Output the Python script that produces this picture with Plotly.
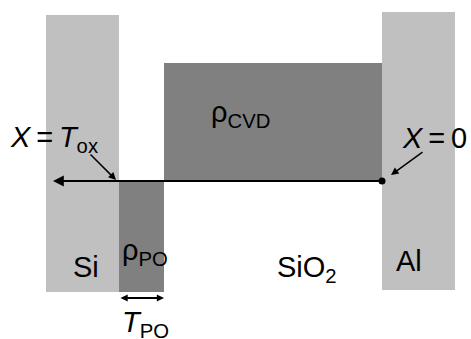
import plotly.graph_objects as go

# Layer geometry of the diagram (diagram units, origin top-left)
layer_names = ["Si", "PO", "CVD", "Al"]
layer_x0 = [46, 119, 164, 382]
layer_x1 = [119, 164, 382, 455]
layer_top = [15, 181, 63, 12]
layer_bottom = [292, 292, 181, 290]
layer_colors = ["#c0c0c0", "#808080", "#808080", "#c0c0c0"]

# Axis line (X axis from X=0 at Al interface to X=Tox at Si)
axis_y = 181
axis_start = 382
axis_end = 53

# Labels
label_text = ["<i>X</i>\u2009=\u2009<i>T</i><sub>ox</sub>", "<i>X</i>\u2009=\u20090", "ρ<sub>CVD</sub>",
              "ρ<sub>PO</sub>", "Si", "SiO<sub>2</sub>", "Al", "<i>T</i><sub>PO</sub>"]
label_x = [8, 400, 209, 120, 71, 275, 394, 120]
label_y = [139, 138, 114, 252, 267, 269, 261, 324]

FONT = "Liberation Sans, Arial, sans-serif"

fig = go.Figure()

shapes = []
for x0, x1, y0, y1, c in zip(layer_x0, layer_x1, layer_top, layer_bottom, layer_colors):
    shapes.append(dict(type="rect", xref="x", yref="y", x0=x0, x1=x1, y0=y0, y1=y1,
                       fillcolor=c, line=dict(width=0), layer="below"))

fig.add_trace(go.Scatter(x=[axis_start], y=[axis_y], mode="markers",
                         marker=dict(color="black", size=7), showlegend=False,
                         hoverinfo="skip"))

annotations = []
for t, x, y in zip(label_text, label_x, label_y):
    annotations.append(dict(text=t, x=x, y=y, xref="x", yref="y", xanchor="left",
                            yanchor="middle", showarrow=False,
                            font=dict(family=FONT, size=29, color="black")))

# main axis arrow
annotations.append(dict(text="", x=axis_end, y=axis_y, ax=axis_start, ay=axis_y,
                        xref="x", yref="y", axref="x", ayref="y", showarrow=True,
                        arrowhead=2, arrowsize=1.2, arrowwidth=1.8, arrowcolor="black",
                        standoff=0, startstandoff=0))
# pointer arrows
annotations.append(dict(text="", x=116, y=180, ax=89, ay=153,
                        xref="x", yref="y", axref="x", ayref="y", showarrow=True,
                        arrowhead=2, arrowsize=1, arrowwidth=1.5, arrowcolor="black"))
annotations.append(dict(text="", x=391, y=175, ax=424, ay=151,
                        xref="x", yref="y", axref="x", ayref="y", showarrow=True,
                        arrowhead=2, arrowsize=1, arrowwidth=1.5, arrowcolor="black"))
# T_PO double arrow
annotations.append(dict(text="", x=layer_x1[1], y=298, ax=layer_x0[1], ay=298,
                        xref="x", yref="y", axref="x", ayref="y", showarrow=True,
                        arrowhead=2, startarrowhead=2, arrowside="end+start",
                        arrowsize=0.8, startarrowsize=0.8,
                        arrowwidth=1.8, arrowcolor="black"))

fig.update_layout(
    width=471, height=339,
    margin=dict(l=0, r=0, t=0, b=0),
    paper_bgcolor="white", plot_bgcolor="white",
    xaxis=dict(range=[0, 471], visible=False, fixedrange=True),
    yaxis=dict(range=[339, 0], visible=False, fixedrange=True),
    shapes=shapes, annotations=annotations, showlegend=False,
)

fig.write_html("out.html",
               config={"displayModeBar": False, "staticPlot": True},
               post_script="document.body.style.margin='0';document.body.style.overflow='hidden';")
